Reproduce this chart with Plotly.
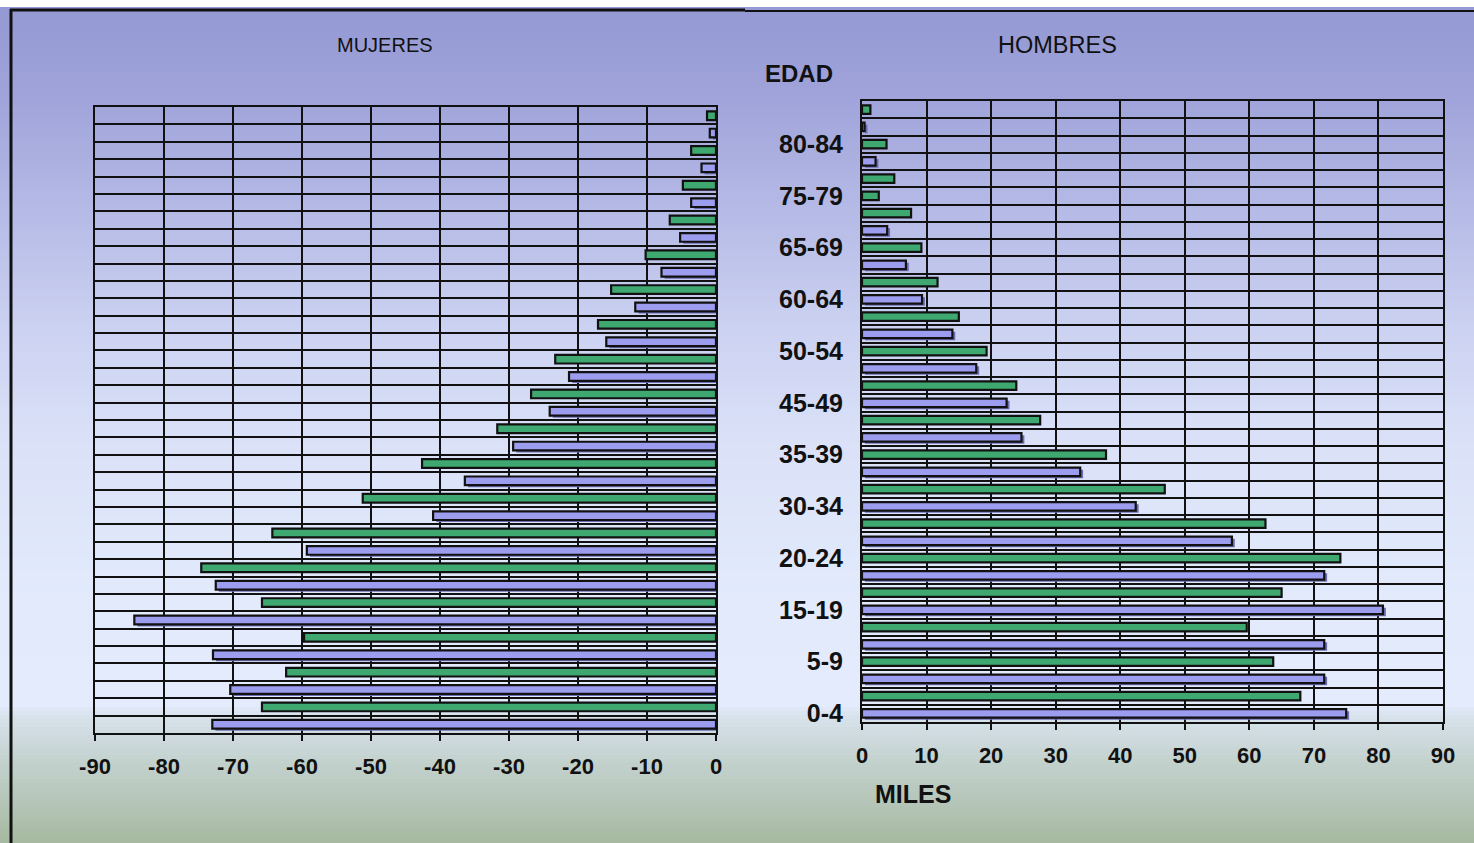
import plotly.graph_objects as go

# ---------------- data ----------------
ages = ["0-4", "5-9", "10-14", "15-19", "20-24", "25-29", "30-34", "35-39", "40-44",
        "45-49", "50-54", "55-59", "60-64", "65-69", "70-74", "75-79", "80-84", "85+"]

# MUJERES (miles) - lower bar (lavender) and upper bar (green) of each age group
mujeres_lav = [73.0, 70.4, 72.9, 84.3, 72.5, 59.3, 41.0, 36.4, 29.4,
               24.1, 21.3, 15.9, 11.7, 7.9, 5.2, 3.6, 2.1, 0.9]
mujeres_grn = [65.8, 62.3, 59.7, 65.8, 74.6, 64.3, 51.2, 42.6, 31.7,
               26.8, 23.3, 17.1, 15.2, 10.2, 6.7, 4.8, 3.6, 1.3]

# HOMBRES (miles)
hombres_lav = [75.0, 71.6, 71.6, 80.7, 71.6, 57.3, 42.4, 33.8, 24.7,
               22.4, 17.7, 14.0, 9.3, 6.8, 3.9, 2.6, 2.1, 0.4]
hombres_grn = [67.9, 63.7, 59.6, 65.0, 74.1, 62.5, 46.9, 37.8, 27.6,
               23.9, 19.3, 15.0, 11.7, 9.2, 7.6, 5.0, 3.8, 1.3]

x_ticks = [0, 10, 20, 30, 40, 50, 60, 70, 80, 90]

# ---------------- style ----------------
W, H = 1474, 843
GREEN = "#3fa870"
LAV = "#9d9df0"
LAV_SHADOW = "#6c6cb4"
EDGE = "#111111"
FONT = "Arial, Liberation Sans, sans-serif"

n = len(ages)
pos_lav = [2 * k for k in range(n)]
pos_grn = [2 * k + 1 for k in range(n)]
# one bar of the men's lavender series is drawn green in the original
hom_lav_colors = [LAV] * n
hom_lav_colors[15] = GREEN
hom_shadow_colors = [LAV_SHADOW] * n
hom_shadow_colors[15] = "rgba(0,0,0,0)"

fig = go.Figure()

def add_bars(xvals, yvals, color, xa, ya):
    fig.add_trace(go.Bar(
        x=xvals, y=yvals, orientation="h", width=0.5,
        marker=dict(color=color, line=dict(color=EDGE, width=2.2)),
        xaxis=xa, yaxis=ya, showlegend=False, hoverinfo="x+y"))

def add_shadow(xvals, yvals, color, xa, ya):
    # soft 3D shadow beneath the lavender bars (drawn first)
    fig.add_trace(go.Bar(
        x=xvals, y=yvals, orientation="h", width=0.5, offset=-0.37, base=0.45,
        marker=dict(color=color, line=dict(width=0)),
        xaxis=xa, yaxis=ya, showlegend=False, hoverinfo="skip"))

add_shadow([-v for v in mujeres_lav], pos_lav, LAV_SHADOW, "x", "y")
add_shadow(hombres_lav, pos_lav, hom_shadow_colors, "x2", "y2")
add_bars([-v for v in mujeres_lav], pos_lav, LAV, "x", "y")
add_bars([-v for v in mujeres_grn], pos_grn, GREEN, "x", "y")
add_bars(hombres_lav, pos_lav, hom_lav_colors, "x2", "y2")
add_bars(hombres_grn, pos_grn, GREEN, "x2", "y2")

def px_x(p):
    return p / W

def px_y(p):
    return 1 - p / H

# ---------------- background gradient ----------------
stops = [
    (0, (0x94, 0x98, 0xd3)),
    (100, (0xa0, 0xa4, 0xda)),
    (200, (0xb3, 0xb8, 0xe5)),
    (330, (0xcc, 0xd2, 0xf1)),
    (450, (0xdb, 0xe2, 0xf8)),
    (600, (0xe2, 0xea, 0xfc)),
    (706, (0xe3, 0xeb, 0xfc)),
    (716, (0xd8, 0xe2, 0xec)),
    (760, (0xc4, 0xd2, 0xcf)),
    (843, (0xa6, 0xb9, 0xa0)),
]

def color_at(yp):
    for (y0, c0), (y1, c1) in zip(stops[:-1], stops[1:]):
        if y0 <= yp <= y1:
            t = (yp - y0) / (y1 - y0) if y1 > y0 else 0
            return "rgb(%d,%d,%d)" % tuple(round(a + (b - a) * t) for a, b in zip(c0, c1))
    return "rgb(166,185,160)"

shapes = []
step = 4
yp = 7
while yp < H:
    shapes.append(dict(type="rect", xref="paper", yref="paper", layer="below",
                       x0=0, x1=1, y0=px_y(min(yp + step + 0.5, H)), y1=px_y(yp),
                       fillcolor=color_at(yp + step / 2), line=dict(width=0)))
    yp += step

# outer frame lines of the original chart
shapes.append(dict(type="line", xref="paper", yref="paper", x0=px_x(10), x1=px_x(745),
                   y0=px_y(10), y1=px_y(10), line=dict(color="#111", width=3)))
shapes.append(dict(type="line", xref="paper", yref="paper", x0=px_x(745), x1=1,
                   y0=px_y(11), y1=px_y(11), line=dict(color="#111", width=2)))
shapes.append(dict(type="line", xref="paper", yref="paper", x0=px_x(11), x1=px_x(11),
                   y0=px_y(9), y1=0, line=dict(color="#111", width=3)))

tickfont = dict(family=FONT, size=22, color="#111", weight="bold")

common_x = dict(
    showgrid=True, gridcolor="#111", gridwidth=2,
    showline=True, mirror=True, linecolor="#111", linewidth=2,
    ticks="outside", ticklen=6, tickwidth=2, tickcolor="#111",
    tickfont=tickfont, zeroline=False, ticklabelstandoff=7, fixedrange=True,
    automargin=False)

grid_minor = dict(tickmode="linear", tick0=0.5, dtick=1, showgrid=True,
                  gridcolor="#111", gridwidth=2, ticks="")

def label(text, x, y, size, bold=False):
    f = dict(family=FONT, size=size, color="#111")
    if bold:
        f["weight"] = "bold"
    return dict(text=text, x=px_x(x), y=px_y(y), xref="paper", yref="paper",
                xanchor="center", yanchor="middle", showarrow=False, font=f)

fig.update_layout(
    width=W, height=H, autosize=False,
    margin=dict(l=0, r=0, t=0, b=0, pad=0, autoexpand=False),
    paper_bgcolor="white",
    plot_bgcolor="rgba(0,0,0,0)",
    barmode="overlay",
    font=dict(family=FONT, color="#111"),
    shapes=shapes,
    xaxis=dict(domain=[px_x(95), px_x(716)], range=[-90, 0], anchor="y",
               tickmode="array", tickvals=[-v for v in x_ticks],
               ticktext=["-%d" % v if v else "0" for v in x_ticks], **common_x),
    yaxis=dict(domain=[px_y(733), px_y(107)], range=[-0.5, 2 * n - 0.5], anchor="x",
               showticklabels=False, showline=True, mirror=True, linecolor="#111", linewidth=2,
               tickmode="linear", tick0=0.5, dtick=1, showgrid=True, gridcolor="#111",
               gridwidth=2, ticks="", zeroline=False, fixedrange=True, automargin=False),
    xaxis2=dict(domain=[px_x(862), px_x(1443)], range=[0, 90], anchor="y2",
                tickmode="array", tickvals=x_ticks, **common_x),
    yaxis2=dict(domain=[px_y(722), px_y(101)], range=[-0.5, 2 * n - 0.5], anchor="x2",
                tickmode="array", tickvals=list(range(0, 2 * n, 3)),
                ticktext=[ages[i // 2] for i in range(0, 2 * n, 3)],
                tickfont=dict(family=FONT, size=25, color="#111", weight="bold"),
                ticks="", showgrid=False, minor=grid_minor, ticklabelstandoff=12,
                showline=True, mirror=True, linecolor="#111", linewidth=2,
                zeroline=False, fixedrange=True, automargin=False),
    annotations=[
        label("MUJERES", 385, 45, 20),
        label("HOMBRES", 1057, 45, 23.5),
        label("EDAD", 799, 74, 24, bold=True),
        label("MILES", 913, 794, 25, bold=True),
    ],
)

fig.write_html("out.html", config={"displayModeBar": False},
               post_script="document.body.style.margin='0';document.body.style.overflow='hidden';")
